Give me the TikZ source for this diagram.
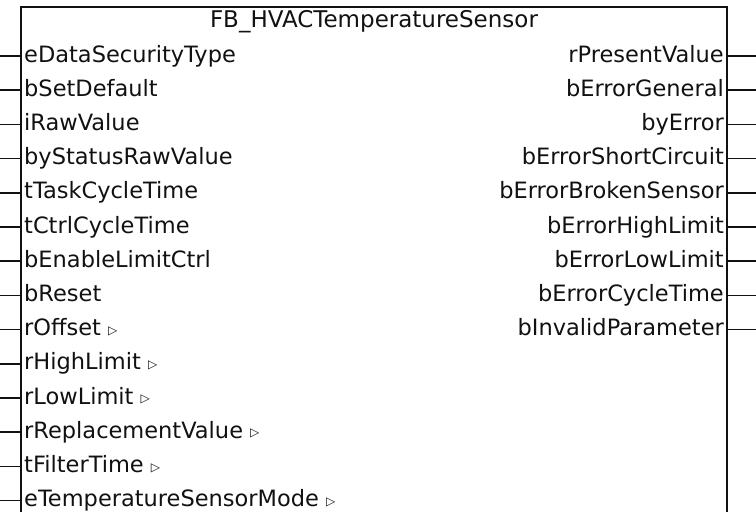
\documentclass[tikz,border=0pt]{standalone}
\usepackage{fontspec}
\setmainfont{DejaVu Sans}
\usepackage{xcolor}
\usetikzlibrary{positioning}
\definecolor{ink}{HTML}{111111}
\tikzset{
  frame/.style={draw=ink, line width=2pt},
  pinline/.style={draw=ink, line width=1.5pt},
  fbtitle/.style={inner sep=0pt, font=\fontsize{23}{23}\selectfont, text=ink},
  inlbl/.style={anchor=west, inner xsep=3pt, inner ysep=0pt, text height=12.2pt, text depth=0pt, font=\fontsize{22.5}{23}\selectfont, text=ink},
  outlbl/.style={anchor=east, inner xsep=3pt, inner ysep=0pt, text height=12.2pt, text depth=0pt, font=\fontsize{22.5}{23}\selectfont, text=ink},
}
\newcommand{\tri}{\ {\fontsize{12}{12}\selectfont\raisebox{1.5pt}{▷}}}

\begin{document}
\begin{tikzpicture}[x=1pt,y=-1pt]
\useasboundingbox (0,0) rectangle (756,512);
% block outline (runs past the bottom edge)
\draw[frame] (21,515) -- (21,7) -- (727,7) -- (727,515);
\node[fbtitle] (fb) at (374,22) {FB\_HVACTemperatureSensor};
% inputs
\foreach \s [count=\i from 0] in {eDataSecurityType,bSetDefault,iRawValue,byStatusRawValue,tTaskCycleTime,tCtrlCycleTime,bEnableLimitCtrl,bReset,rOffset\tri,rHighLimit\tri,rLowLimit\tri,rReplacementValue\tri,tFilterTime\tri,eTemperatureSensorMode\tri}{
  \node[inlbl] (in\i) at (21,56+34.2*\i) {\s};
  \coordinate (inpin\i) at (0,56+34.2*\i);
  \draw[pinline] (inpin\i) -- (in\i.west);
}
% outputs
\foreach \s [count=\i from 0] in {rPresentValue,bErrorGeneral,byError,bErrorShortCircuit,bErrorBrokenSensor,bErrorHighLimit,bErrorLowLimit,bErrorCycleTime,bInvalidParameter}{
  \node[outlbl] (out\i) at (727,56+34.2*\i) {\s};
  \coordinate (outpin\i) at (756,56+34.2*\i);
  \draw[pinline] (out\i.east) -- (outpin\i);
}
\end{tikzpicture}
\end{document}
